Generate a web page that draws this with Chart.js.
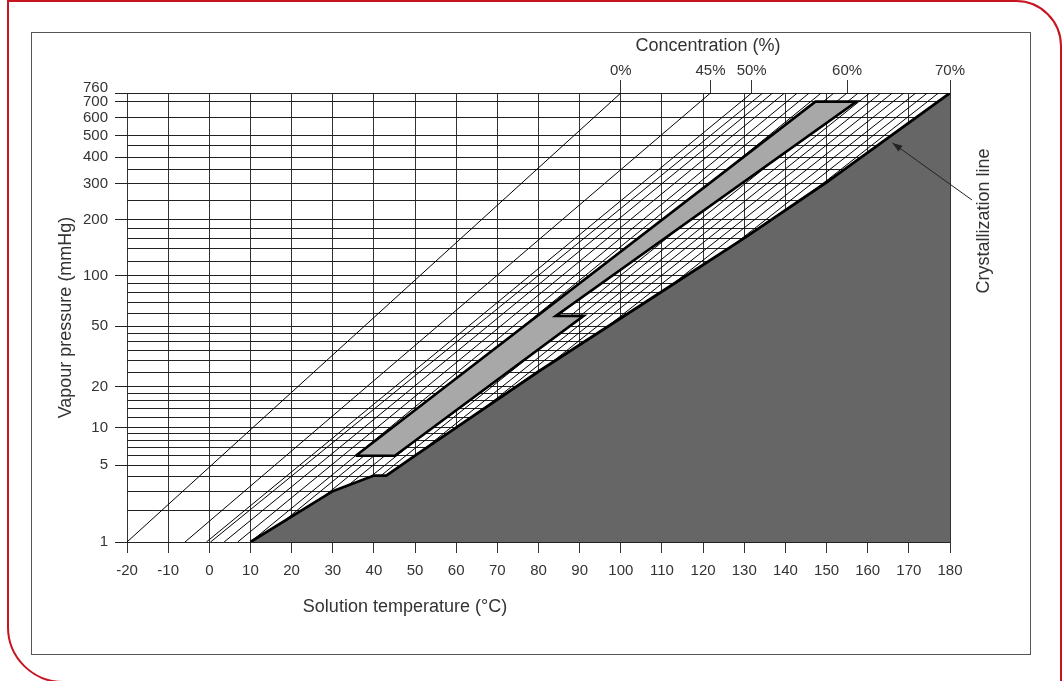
<!DOCTYPE html>
<html>
<head>
<meta charset="utf-8">
<title>Dühring chart</title>
<script src="https://cdn.jsdelivr.net/npm/chart.js@4.4.1/dist/chart.umd.min.js"></script>
<style>
  html, body { margin: 0; padding: 0; background: #fff; }
  body { width: 1063px; height: 681px; position: relative; overflow: hidden; }
  .deco {
    position: absolute; left: 7px; top: 0; right: 1px; bottom: -2px;
    border: 2px solid #c8141e; box-sizing: border-box;
    border-top-right-radius: 46px; border-bottom-left-radius: 56px;
  }
  .frame {
    position: absolute; left: 31px; top: 32px; width: 1000px; height: 623px;
    border: 1px solid #555; box-sizing: border-box;
  }
  canvas { position: absolute; left: 0; top: 0; }
</style>
</head>
<body>
<div class="deco"></div>
<div class="frame"></div>
<canvas id="duhring" width="1063" height="681"></canvas>
<script>
// --- DATA ---
const tempTicks = [-20, -10, 0, 10, 20, 30, 40, 50, 60, 70, 80, 90, 100, 110, 120, 130, 140, 150, 160, 170, 180];
const pressGrid = [1, 2, 3, 4, 5, 6, 7, 8, 9, 10, 12, 14, 16, 18, 20, 25, 30, 35, 40, 45, 50,
                   60, 70, 80, 90, 100, 120, 140, 160, 180, 200, 250, 300, 350, 400, 450, 500, 600, 700, 760];
const pressLabels = [1, 5, 10, 20, 50, 100, 200, 300, 400, 500, 600, 700, 760];

// concentration lines: temperature at 1 mmHg and at 760 mmHg
const concNames = ['0%', '45%', '50%', '', '', '', '', '', '', '', '60%', '', '', '', '', '', '', '', '', '70%'];
const concPress = [1, 760];
const concTempLow = [-20, -5.9, -0.7, 0.3, 3.6, 6.9, 10, 11.9, 14.2, 16.7, 19.5, 21.6, 23.9, 25.9, 28.0, 30.3, 32.8, 35.3, 37.8, 40.3];
const concTempHigh = [100, 121.8, 131.8, 134.5, 136.9, 139.8, 142.9, 145.8, 148.7, 151.8, 155.0, 157.7, 160.5, 163.2, 166.0, 168.8, 171.7, 174.5, 177.2, 180];

// crystallization line
const crystalTemp = [10, 30, 40, 43, 50, 80, 116, 130, 150, 180];
const crystalPress = [1, 3, 4.1, 4.1, 6, 25.4, 100, 160, 305, 760];

// operating cycle (grey band)
const cycleTemp = [35.6, 147.3, 157.3, 84.2, 91.0, 45.1, 35.6];
const cyclePress = [6, 700, 700, 58, 58, 6, 6];

const arrowTip = [166, 464];

// --- VAPOUR PRESSURE SCALE (water saturation temperature, Antoine) ---
const tsat = p => 1730.63 / (8.07131 - Math.log10(p)) - 233.426;
const psat = t => Math.pow(10, 8.07131 - 1730.63 / (233.426 + t));

class VapourScale extends Chart.LinearScale {
    static id = 'vapour';
    getPixelForValue(value) {
        const a = tsat(this.min), b = tsat(this.max);
        return this.getPixelForDecimal((tsat(value) - a) / (b - a));
    }
    getValueForPixel(pixel) {
        const a = tsat(this.min), b = tsat(this.max);
        return psat(a + this.getDecimalForPixel(pixel) * (b - a));
    }
}
Chart.register(VapourScale);

Chart.defaults.font.family = '"Liberation Sans", Arial, sans-serif';
Chart.defaults.color = '#333';

const topTicks = concTempHigh.filter((t, i) => concNames[i] !== '');

// --- TEXTS AND ARROW ---
const annotations = {
    id: 'annotations',
    afterDraw(chart) {
        const { ctx, chartArea: a, scales } = chart;
        ctx.save();
        ctx.fillStyle = '#333';
        ctx.font = '18px "Liberation Sans", Arial, sans-serif';
        ctx.textAlign = 'center';
        ctx.textBaseline = 'middle';
        ctx.fillText('Concentration (%)', a.left + 581, a.top - 47);
        ctx.fillText('Solution temperature (°C)', a.left + 278, a.bottom + 65);
        ctx.translate(a.right + 34, a.top + 128);
        ctx.rotate(-Math.PI / 2);
        ctx.fillText('Crystallization line', 0, 0);
        ctx.restore();

        const tx = scales.x.getPixelForValue(arrowTip[0]);
        const ty = scales.y.getPixelForValue(arrowTip[1]);
        const sx = a.right + 22, sy = a.top + 107;
        const ang = Math.atan2(ty - sy, tx - sx);
        ctx.save();
        ctx.strokeStyle = '#222';
        ctx.fillStyle = '#222';
        ctx.lineWidth = 1;
        ctx.beginPath();
        ctx.moveTo(sx, sy);
        ctx.lineTo(tx, ty);
        ctx.stroke();
        ctx.beginPath();
        ctx.moveTo(tx, ty);
        ctx.lineTo(tx - 10 * Math.cos(ang) + 3.5 * Math.sin(ang), ty - 10 * Math.sin(ang) - 3.5 * Math.cos(ang));
        ctx.lineTo(tx - 10 * Math.cos(ang) - 3.5 * Math.sin(ang), ty - 10 * Math.sin(ang) + 3.5 * Math.cos(ang));
        ctx.closePath();
        ctx.fill();
        ctx.restore();
    }
};

// --- DATASETS ---
const concDatasets = concNames.map((name, i) => ({
    label: name || 'c' + i,
    data: [{ x: concTempLow[i], y: concPress[0] }, { x: concTempHigh[i], y: concPress[1] }],
    borderColor: '#000',
    borderWidth: 1,
    pointRadius: 0,
    fill: false,
    order: 3
}));

const cycleDataset = {
    label: 'cycle',
    data: cycleTemp.map((t, i) => ({ x: t, y: cyclePress[i] })),
    borderColor: '#000',
    borderWidth: 2.6,
    borderJoinStyle: 'miter',
    backgroundColor: '#a8a8a8',
    fill: 'shape',
    pointRadius: 0,
    order: 2
};

const crystalDataset = {
    label: 'Crystallization line',
    data: crystalTemp.map((t, i) => ({ x: t, y: crystalPress[i] })),
    borderColor: '#000',
    borderWidth: 2.8,
    backgroundColor: '#666666',
    fill: 'start',
    pointRadius: 0,
    order: 1
};

new Chart(document.getElementById('duhring'), {
    type: 'line',
    data: { datasets: [crystalDataset, cycleDataset, ...concDatasets] },
    options: {
        responsive: false,
        animation: false,
        devicePixelRatio: 1,
        layout: { padding: { left: 40, right: 113, top: 0, bottom: 0 } },
        plugins: { legend: { display: false }, tooltip: { enabled: false } },
        scales: {
            x: {
                type: 'linear', position: 'bottom', min: -20, max: 180, z: 1,
                afterBuildTicks: s => { s.ticks = tempTicks.map(v => ({ value: v })); },
                afterFit: s => { s.height = 139; },
                grid: { color: '#333', lineWidth: 1, tickLength: 11, tickColor: '#333' },
                border: { display: false },
                ticks: { autoSkip: false, maxRotation: 0, padding: 9, font: { size: 15 } }
            },
            x2: {
                type: 'linear', axis: 'x', position: 'top', min: -20, max: 180, z: 1,
                afterBuildTicks: s => { s.ticks = topTicks.map(v => ({ value: v })); },
                afterFit: s => { s.height = 93; },
                grid: { drawOnChartArea: false, tickLength: 13, tickColor: '#333' },
                border: { display: false },
                ticks: {
                    autoSkip: false, maxRotation: 0, padding: 0, font: { size: 15 },
                    callback: v => {
                        const i = concTempHigh.indexOf(v);
                        return i >= 0 ? concNames[i] : '';
                    }
                }
            },
            y: {
                type: 'vapour', min: 1, max: 760, z: 1,
                afterBuildTicks: s => { s.ticks = pressGrid.map(v => ({ value: v })); },
                afterFit: s => { s.width = 87; },
                grid: {
                    color: '#222', lineWidth: 1, tickLength: 12,
                    tickColor: ctx => (ctx.tick && pressLabels.includes(ctx.tick.value)) ? '#222' : 'rgba(0,0,0,0)'
                },
                border: { display: false },
                ticks: {
                    autoSkip: false, padding: 7, font: { size: 15, lineHeight: 0.75 },
                    callback: v => v === 760 ? ['760', ''] : (pressLabels.includes(v) ? String(v) : '')
                },
                title: {
                    display: true, text: 'Vapour pressure (mmHg)', color: '#333',
                    font: { size: 18 }, padding: { top: 15, bottom: 0 }
                }
            }
        }
    },
    plugins: [annotations]
});
</script>
</body>
</html>
